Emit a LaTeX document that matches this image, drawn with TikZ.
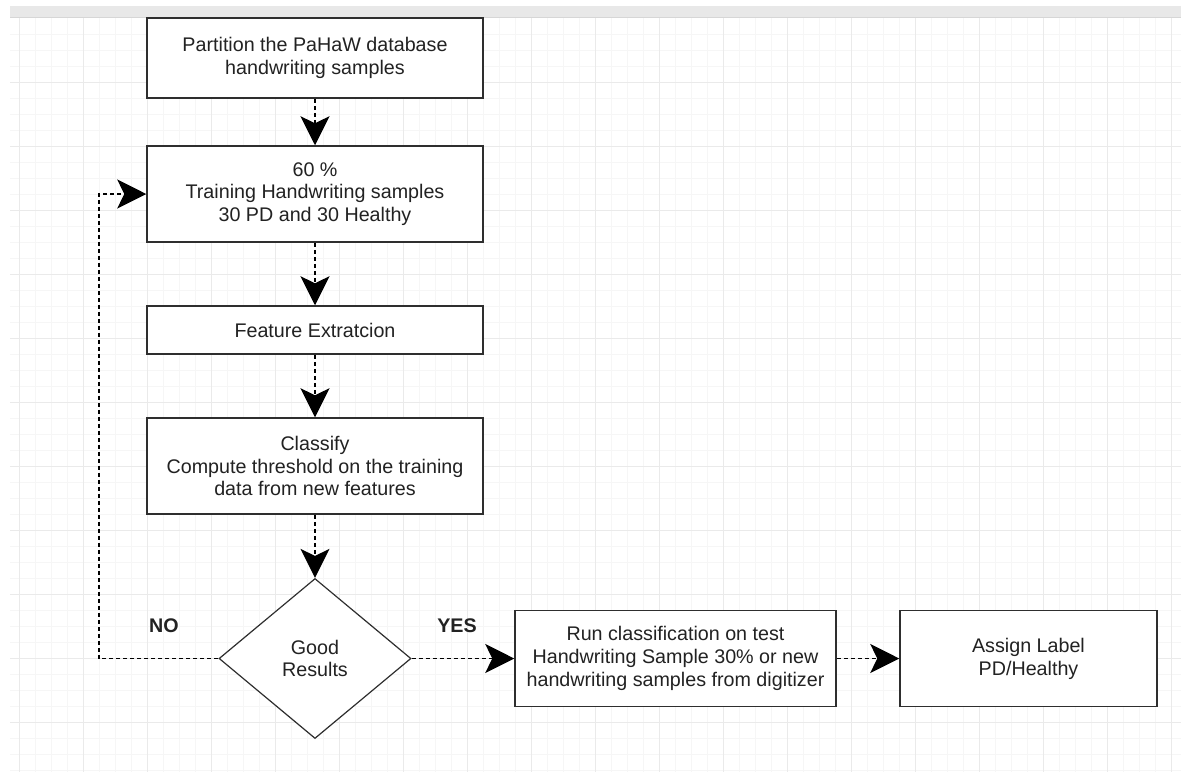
\documentclass[tikz,border=0pt]{standalone}
\usepackage{fontspec}
\setmainfont{Liberation Sans}
\usetikzlibrary{shapes.geometric,arrows.meta}
\definecolor{gridminor}{HTML}{F6F6F6}
\definecolor{gridmajor}{HTML}{EAEAEA}
\definecolor{barfill}{HTML}{E8E8E8}
\definecolor{barshade}{HTML}{D6D6D6}
\definecolor{ink}{HTML}{222222}
\definecolor{edge}{HTML}{2E2E2E}

\begin{document}
\begin{tikzpicture}[x=1pt,y=-1pt,
  stepbox/.style={draw=edge, line width=1.5pt, fill=white, rectangle,
    align=center, text=ink, inner sep=0pt,
    font=\fontsize{19.7}{22.8}\selectfont},
  decision/.style={draw=edge, line width=1.2pt, fill=white, diamond,
    align=center, text=ink, inner sep=0pt,
    minimum width=192pt, minimum height=160pt,
    font=\fontsize{19.7}{22.8}\selectfont},
  flow/.style={draw=black, line width=1.4pt, dash pattern=on 4pt off 3pt,
    -{Stealth[length=29pt,width=29pt,inset=7pt]}},
  tag/.style={font=\bfseries\fontsize{19.7}{22}\selectfont, text=ink}]

% canvas
\useasboundingbox (0,0) rectangle (1181,772);
\fill[white] (0,0) rectangle (1181,772);

% toolbar strip
\fill[barfill] (10,6) rectangle (1181,18);
\draw[barshade, line width=1pt] (10,17.5) -- (1181,17.5);

% background grid
\foreach \gx in {19,35,...,1180} \draw[gridminor, line width=1pt] (\gx,18) -- (\gx,772);
\foreach \gy in {34,50,...,771} \draw[gridminor, line width=1pt] (10,\gy) -- (1181,\gy);
\foreach \gx in {19,83,...,1180} \draw[gridmajor, line width=1pt] (\gx,18) -- (\gx,772);
\foreach \gy in {82,146,...,771} \draw[gridmajor, line width=1pt] (10,\gy) -- (1181,\gy);

% process steps
\node[stepbox, minimum width=336pt, minimum height=80pt] (b1) at (315,58)
  {Partition the PaHaW database\\handwriting samples};
\node[stepbox, minimum width=336pt, minimum height=96pt] (b2) at (315,194)
  {60 \%\\Training Handwriting samples\\30 PD and 30 Healthy};
\node[stepbox, minimum width=336pt, minimum height=48pt] (b3) at (315,330)
  {Feature Extratcion};
\node[stepbox, minimum width=336pt, minimum height=96pt] (b4) at (315,466)
  {Classify\\Compute threshold on the training\\data from new features};
\node[decision] (dia) at (315,658.5) {Good\\Results};
\node[stepbox, minimum width=321pt, minimum height=96pt] (b5) at (675.5,658.5)
  {Run classification on test\\Handwriting Sample 30\% or new\\handwriting samples from digitizer};
\node[stepbox, minimum width=257pt, minimum height=96pt] (b6) at (1028.5,658.5)
  {Assign Label\\PD/Healthy};

% branch labels
\node[tag] (no) at (164,626) {NO};
\node[tag] (yes) at (457,626) {YES};

% connectors
\coordinate (loopcorner) at (99,658.5);
\draw[flow] (b1) -- (b2);
\draw[flow] (b2) -- (b3);
\draw[flow] (b3) -- (b4);
\draw[flow] (b4) -- (dia);
\draw[flow] (dia) -- (b5);
\draw[flow] (b5) -- (b6);
\draw[flow] (dia.west) -- (loopcorner) |- (b2.west);
\end{tikzpicture}
\end{document}
